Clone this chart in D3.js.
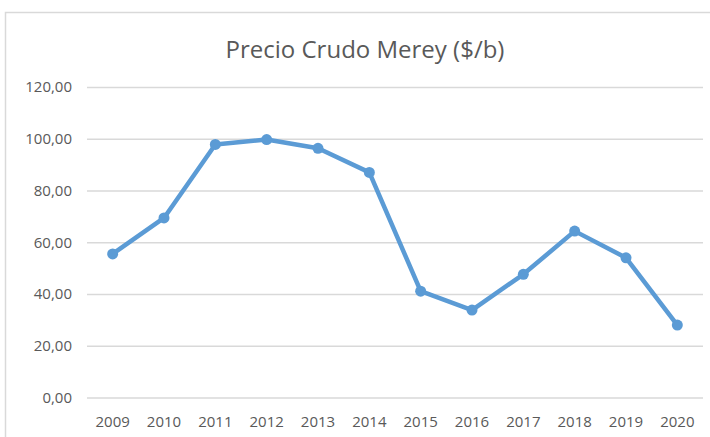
<!DOCTYPE html>
<html>
<head>
<meta charset="utf-8">
<script src="https://d3js.org/d3.v7.min.js"></script>
<style>
  body { margin: 0; background: #fff; }
  svg { font-family: "Open Sans", "Noto Sans", sans-serif; }
</style>
</head>
<body>
<div id="graph"></div>
<script>
// Precio Crudo Merey ($/b)
var years = ["2009", "2010", "2011", "2012", "2013", "2014", "2015", "2016", "2017", "2018", "2019", "2020"];
var prices = [55.5, 69.4, 97.8, 99.7, 96.3, 87.0, 41.1, 33.8, 47.6, 64.3, 54.0, 28.0];
var yTicks = [0, 20, 40, 60, 80, 100, 120];

const fullwidth = 710;
const fullheight = 437;

var margin = {left: 87, right: 7, top: 87, bottom: 39.5};

var svg = d3.select("#graph")
  .append("svg")
  .attr("width", fullwidth)
  .attr("height", fullheight);

// chart frame
svg.append("rect")
  .attr("x", 5.5)
  .attr("y", 12.5)
  .attr("width", 720)
  .attr("height", 440)
  .attr("fill", "#fff")
  .attr("stroke", "#d9d9d9")
  .attr("stroke-width", 1.5);

svg.append("text")
  .attr("x", 365)
  .attr("y", 58)
  .attr("text-anchor", "middle")
  .attr("font-size", 24)
  .attr("fill", "#595959")
  .text("Precio Crudo Merey ($/b)");

var xScale = d3.scaleBand()
  .domain(years)
  .range([margin.left, fullwidth - margin.right]);

var yScale = d3.scaleLinear()
  .domain([0, 120])
  .range([fullheight - margin.bottom, margin.top]);

// gridlines
var yAxis = d3.axisLeft(yScale)
  .tickValues(yTicks)
  .tickSize(-(fullwidth - margin.left - margin.right))
  .tickPadding(15)
  .tickFormat(d => d3.format(".2f")(d).replace(".", ","));

var gy = svg.append("g")
  .attr("transform", "translate(" + margin.left + ",0)")
  .call(yAxis);
gy.select(".domain").remove();
gy.selectAll(".tick line").attr("stroke", "#d9d9d9").attr("stroke-width", 1.3);
gy.selectAll(".tick text").attr("fill", "#595959").attr("font-size", 15).attr("font-family", "Open Sans");

var xAxis = d3.axisBottom(xScale).tickSize(0).tickPadding(19);
var gx = svg.append("g")
  .attr("transform", "translate(0," + (fullheight - margin.bottom) + ")")
  .call(xAxis);
gx.select(".domain").remove();
gx.selectAll(".tick text").attr("fill", "#595959").attr("font-size", 15).attr("font-family", "Open Sans");

var line = d3.line()
  .x((d, i) => xScale(years[i]) + xScale.bandwidth() / 2)
  .y(d => yScale(d));

svg.append("path")
  .datum(prices)
  .attr("fill", "none")
  .attr("stroke", "#5b9bd5")
  .attr("stroke-width", 4.5)
  .attr("stroke-linejoin", "round")
  .attr("d", line);

svg.append("g")
  .selectAll("circle")
  .data(prices)
  .enter().append("circle")
    .attr("cx", (d, i) => xScale(years[i]) + xScale.bandwidth() / 2)
    .attr("cy", d => yScale(d))
    .attr("r", 5.5)
    .attr("fill", "#5b9bd5");
</script>
</body>
</html>
